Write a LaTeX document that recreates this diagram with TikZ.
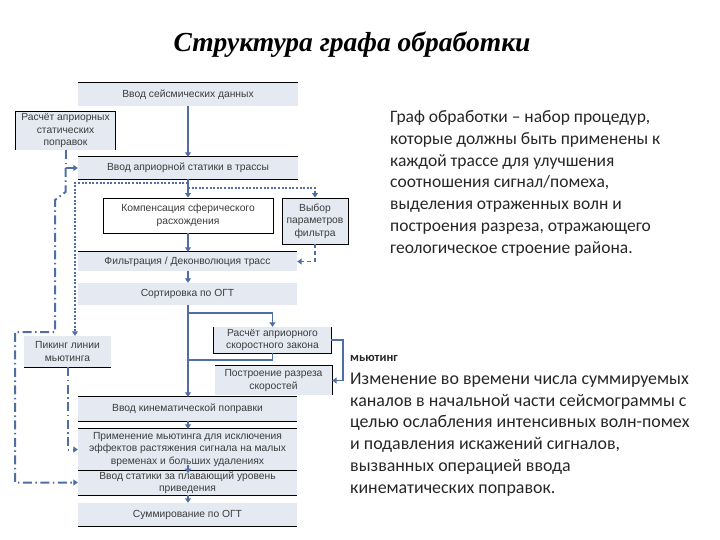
\documentclass[tikz,border=0pt]{standalone}
\usepackage{fontspec}
\setmainfont{Liberation Sans}
\newfontfamily\titlefont{Liberation Serif}
\newfontfamily\bodyfont{Carlito}
\usetikzlibrary{arrows.meta}
\definecolor{boxfill}{HTML}{E4E9F2}
\definecolor{lineblue}{HTML}{4E6EA5}
\definecolor{boxtext}{HTML}{3C3C3C}
\definecolor{bodytext}{HTML}{262626}
\begin{document}
\begin{tikzpicture}[x=1pt,y=-1pt,
  box/.style={fill=boxfill, inner sep=0pt, align=center, text=boxtext, font=\fontsize{10.3}{12.5}\selectfont},
  rule/.style={line width=0.9pt, black},
  tip/.style={-{Triangle[length=4.5pt,width=6pt]}},
  flow/.style={draw=lineblue, line width=1.8pt, tip},
  flowplain/.style={draw=lineblue, line width=1.8pt},
  dotline/.style={draw=lineblue, line width=2pt, dash pattern=on 2pt off 1.6pt, tip},
  dashline/.style={draw=lineblue, line width=1.8pt, dash pattern=on 4pt off 3pt, tip},
  dashdot/.style={draw=lineblue, line width=2pt, dash pattern=on 9pt off 3.5pt on 1.5pt off 3.5pt},
  para/.style={anchor=base west, inner sep=0pt, align=left, text=bodytext, font=\bodyfont\fontsize{17.5}{21.7}\selectfont}
]
\useasboundingbox (0,0) rectangle (720,540);

\node[font=\titlefont\bfseries\itshape\fontsize{27.5}{32}\selectfont, anchor=base] (title) at (352,52) {Структура графа обработки};

% boxes
\node[box, minimum width=220, minimum height=23] (b1) at (188,94.5) {Ввод сейсмических данных};
\node[box, minimum width=99, minimum height=38] (b2) at (65.5,131) {Расчёт априорных\\статических\\поправок};
\node[box, minimum width=220, minimum height=22] (b3) at (188,168) {Ввод априорной статики в трассы};
\node[box, fill=white, draw=black, line width=0.9pt, minimum width=170, minimum height=35] (b4) at (188,215.5) {Компенсация сферического\\расхождения};
\node[box, draw=black, line width=0.9pt, minimum width=66, minimum height=46] (b5) at (315,221) {Выбор\\параметров\\фильтра};
\node[box, minimum width=219, minimum height=19] (b6) at (187.5,261.5) {Фильтрация / Деконволюция трасс};
\node[box, minimum width=219, minimum height=22] (b7) at (187.5,294) {Сортировка по ОГТ};
\node[box, minimum width=87, minimum height=31] (b8) at (67.5,351.5) {Пикинг линии\\мьютинга};
\node[box, minimum width=117, minimum height=26] (b9) at (272.5,340) {Расчёт априорного\\скоростного закона};
\node[box, minimum width=117, minimum height=29] (b10) at (273.5,380.5) {Построение разреза\\скоростей};
\node[box, minimum width=219, minimum height=24] (b11) at (187.5,409) {Ввод кинематической поправки};
\node[box, minimum width=219, minimum height=41] (b12) at (187.5,449.5) {Применение мьютинга для исключения\\эффектов растяжения сигнала на малых\\временах и больших удалениях};
\node[box, minimum width=219, minimum height=25] (b13) at (187.5,482.5) {Ввод статики за плавающий уровень\\приведения};
\node[box, minimum width=219, minimum height=23] (b14) at (187.5,514.5) {Суммирование по ОГТ};

% rules
\draw[rule] (b1.north west) -- (b1.north east);
\draw[rule] (b2.south west) -- (b2.north west) -- (b2.north east) -- (b2.south east);
\draw[rule] (b3.north west) -- (b3.north east);
\draw[rule] (b3.south west) -- (b3.south east);
\draw[rule] (b6.north west) -- (b6.north east);
\draw[rule] (b8.south west) -- (b8.south east);
\draw[rule] (b9.north west) -- (b9.south west) -- (b9.south east) -- (b9.north east);
\draw[rule] (b10.north west) -- (b10.north east) -- (b10.south east);
\draw[rule] (b11.north west) -- (b11.north east);
\draw[rule] (b11.south west) -- (b11.south east);
\draw[rule] (b12.north west) -- (b12.north east);
\draw[rule] (b12.south west) -- (b12.south east);
\draw[rule] (b13.south west) -- (b13.south east);
\draw[rule] (b14.south west) -- (b14.south east);

% main flow
\draw[flow] (b1.south) -- (b3.north);
\draw[flow] (b3.south) -- (b4.north);
\draw[flow] (b4.south) -- (b4.south |- b6.north);
\draw[flow] (b1.south |- b6.south) -- (b1.south |- b7.north);
\draw[flow] (b1.south |- b7.south) -- (b1.south |- b11.north);
\draw[flow] (b1.south |- b11.south) -- (b1.south |- b12.north);
\draw[flow] ([yshift=5pt]b1.south |- b12.south) -- ([yshift=-3pt]b1.south |- b12.south);
\draw[flow] (b1.south |- b13.south) -- (b1.south |- b14.north);

% velocity branch
\coordinate (v1) at (188,313);
\coordinate (v2) at (188,360);
\coordinate (v3) at (343,340);
\draw[flow] (v1) -- (v1 -| b9.north) -- (b9.north);
\draw[flowplain] (b9.south) -- (b9.south |- v2) -- (v2);
\draw[flow] (b9.east) -- (v3) -- (v3 |- b10.east) -- (b10.east);

% dotted branches
\coordinate (d1) at (188,183);
\coordinate (d2) at (75,183);
\coordinate (d3) at (188,188);
\draw[dotline] (d1) -- (d2) -- (d2 |- b8.north);
\draw[dotline] (d3) -- (d3 -| b5.north) -- (b5.north);
\draw[dashline] (b5.south) -- (b5.south |- b6.east) -- (b6.east);

% dash-dot branches
\coordinate (a2) at (65.5,192);
\coordinate (a3) at (55,200);
\coordinate (a4) at (55,332);
\coordinate (a5) at (15,332);
\draw[dashdot, tip] (b2.south) -- (b2.south |- b3.west) -- (b3.west);
\draw[dashdot, tip] (b2.south |- b3.west) -- (a2) -- (a3) -- (a4) -- (a5) -- (a5 |- b13.west) -- (b13.west);
\draw[dashdot, tip] (b8.south) -- (b8.south |- b12.west) -- (b12.west);

% text (anchor base = baseline of the last line)
\node[para] (p1) at (390,253) {Граф обработки – набор процедур,\\которые должны быть применены к\\каждой трассе для улучшения\\соотношения сигнал/помеха,\\выделения отраженных волн и\\построения разреза, отражающего\\геологическое строение района.};
\node[para, font=\bodyfont\bfseries\fontsize{12.5}{15}\selectfont] (p2h) at (350,361) {мьютинг};
\node[para, font=\bodyfont\fontsize{17.9}{21.7}\selectfont] (p2) at (350,493) {Изменение во времени числа суммируемых\\каналов в начальной части сейсмограммы с\\целью ослабления интенсивных волн-помех\\и подавления искажений сигналов,\\вызванных операцией ввода\\кинематических поправок.};
\end{tikzpicture}
\end{document}
